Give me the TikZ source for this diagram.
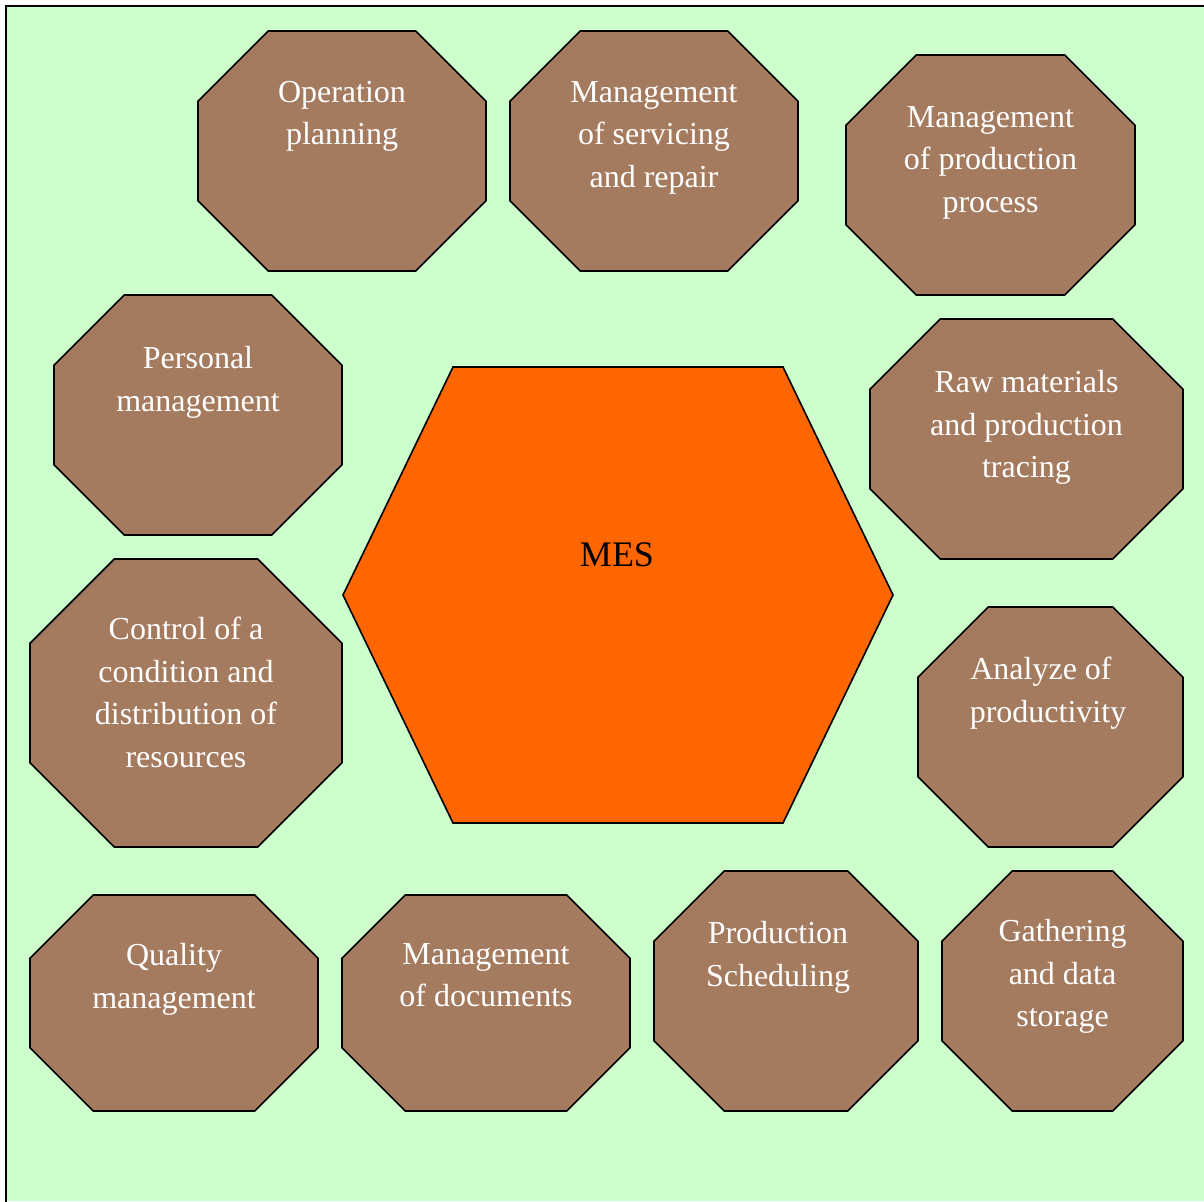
\documentclass[tikz,border=0pt]{standalone}
\usepackage{fontspec}
\setmainfont{Liberation Serif}
\definecolor{bggreen}{HTML}{CCFFCC}
\definecolor{octbrown}{HTML}{A57B60}
\definecolor{mesorange}{HTML}{FF6600}
% #1 name, #2 x1, #3 y1, #4 x2, #5 y2, #6 text x, #7 first baseline y, #8 text
\newcommand\octnode[8]{%
  \pgfmathsetmacro\octcut{0.2929*min(#4-#2,#5-#3)}%
  \draw[octbox] (#2+\octcut,#3) -- (#4-\octcut,#3) -- (#4,#3+\octcut) -- (#4,#5-\octcut)
     -- (#4-\octcut,#5) -- (#2+\octcut,#5) -- (#2,#5-\octcut) -- (#2,#3+\octcut) -- cycle;
  \node[octtext] (#1) at (#6,#7-21) {#8};%
}
\begin{document}
\begin{tikzpicture}[x=0.5pt,y=-0.5pt,
  octbox/.style={draw=black, line width=0.8pt, fill=octbrown, line join=miter},
  octtext/.style={text=white, font=\fontsize{16}{21.2}\selectfont, align=center, inner sep=0pt, anchor=north},
  hexbox/.style={draw=black, line width=0.8pt, fill=mesorange, line join=miter},
  mestext/.style={text=black, font=\fontsize{18}{22}\selectfont, inner sep=0pt, anchor=base}]
\useasboundingbox (0,0) rectangle (1204,1201);
\fill[bggreen] (6,6) rectangle (1204,1201);
\draw[line width=1pt] (6,1210) -- (6,6) -- (1210,6);

% central hexagon
\draw[hexbox] (343,595) -- (453,367) -- (783,367) -- (893,595) -- (783,823) -- (453,823) -- cycle;
\node[mestext] (mes) at (617,566) {MES};

\octnode{opplan}{198}{31}{486}{271}{342}{102}{Operation\\planning}
\octnode{servrep}{510}{31}{798}{271}{654}{102}{Management\\of servicing\\and repair}
\octnode{prodproc}{846}{55}{1135}{295}{990.5}{127}{Management\\of production\\process}
\octnode{personal}{54}{295}{342}{535}{198}{367}{Personal\\management}
\octnode{rawmat}{870}{319}{1183}{559}{1026.5}{391}{Raw materials\\and production\\tracing}
\octnode{control}{30}{559}{342}{847}{186}{638}{Control of a\\condition and\\distribution of\\resources}
\octnode{analyze}{918}{607}{1183}{847}{1048}{678}{Analyze of\hspace*{7pt}\\productivity}
\octnode{quality}{30}{895}{318}{1111}{174}{964}{Quality\\management}
\octnode{docs}{342}{895}{630}{1111}{486}{964}{Management\\of documents}
\octnode{sched}{654}{871}{918}{1111}{778}{942}{Production\\Scheduling}
\octnode{gather}{942}{871}{1183}{1111}{1062.5}{940}{Gathering\\and data\\storage}
\end{tikzpicture}
\end{document}
